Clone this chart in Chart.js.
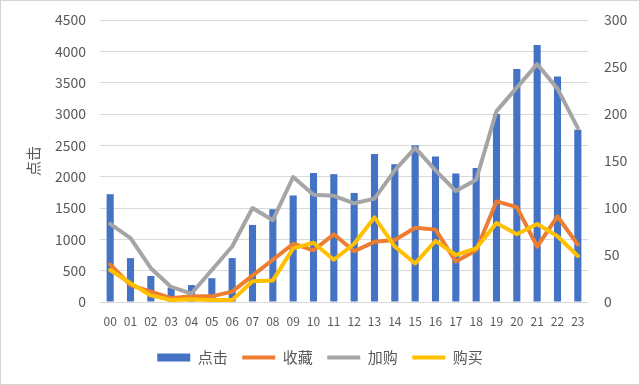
<!DOCTYPE html>
<html>
<head>
<meta charset="utf-8">
<script src="https://cdn.jsdelivr.net/npm/chart.js@4"></script>
<style>
  html, body { margin: 0; padding: 0; background: #fff; }
  #wrap { position: relative; width: 640px; height: 385px; box-sizing: border-box; border: 1px solid #d4d4d4; }
</style>
</head>
<body>
<div id="wrap"><canvas id="hourChart"></canvas></div>
<script>
const hours = ['00','01','02','03','04','05','06','07','08','09','10','11','12','13','14','15','16','17','18','19','20','21','22','23'];
const clicks = [1720, 700, 415, 230, 270, 380, 700, 1230, 1480, 1700, 2060, 2040, 1740, 2360, 2200, 2500, 2320, 2050, 2140, 3000, 3720, 4100, 3600, 2750];
const favorites = [40, 18, 11, 4, 6, 6, 11, 28, 45, 62, 55, 72, 54, 64, 66, 79, 77, 43, 55, 107, 101, 59, 91, 61];
const addCart = [83, 68, 36, 16, 9, 34, 59, 100, 87, 133, 114, 113, 105, 110, 140, 164, 140, 118, 130, 203, 228, 253, 227, 185];
const purchases = [34, 20, 7, 2, 3, 2, 2, 22, 23, 57, 63, 45, 62, 90, 59, 41, 65, 50, 57, 84, 72, 83, 70, 49];

const textColor = '#595959';
const gridColor = '#d9d9d9';
const fontFamily = '"Noto Sans CJK SC", "Noto Sans", sans-serif';

const lineSet = (label, data, color, order) => ({
    type: 'line',
    label,
    data,
    yAxisID: 'y1',
    borderColor: color,
    backgroundColor: color,
    borderWidth: 4,
    borderJoinStyle: 'round',
    borderCapStyle: 'round',
    pointRadius: 0,
    pointStyle: 'line',
    tension: 0,
    order
});

new Chart(document.getElementById('hourChart'), {
    type: 'bar',
    data: {
        labels: hours,
        datasets: [
            {
                label: '点击',
                data: clicks,
                yAxisID: 'y',
                backgroundColor: '#4472c4',
                barPercentage: 0.35,
                categoryPercentage: 1,
                pointStyle: 'rect',
                order: 4
            },
            lineSet('收藏', favorites, '#ed7d31', 3),
            lineSet('加购', addCart, '#a5a5a5', 2),
            lineSet('购买', purchases, '#ffc000', 1)
        ]
    },
    options: {
        responsive: true,
        maintainAspectRatio: false,
        animation: false,
        layout: {
            padding: { top: 19, left: 0, right: 0, bottom: 9 }
        },
        plugins: {
            legend: {
                position: 'bottom',
                labels: {
                    usePointStyle: true,
                    pointStyleWidth: 33,
                    boxHeight: 8,
                    padding: 14.5,
                    color: textColor,
                    font: { family: fontFamily, size: 15 },
                    sort: (a, b) => a.datasetIndex - b.datasetIndex
                }
            },
            tooltip: { enabled: false }
        },
        scales: {
            x: {
                grid: { display: false },
                border: { display: false },
                ticks: {
                    color: textColor,
                    font: { family: fontFamily, size: 12 },
                    maxRotation: 0,
                    autoSkip: false,
                    padding: 4
                },
                afterFit: (scale) => { scale.height = 33.5; }
            },
            y: {
                position: 'left',
                min: 0,
                max: 4500,
                ticks: {
                    stepSize: 500,
                    color: textColor,
                    font: { family: fontFamily, size: 14 },
                    padding: 0,
                    callback: (v) => String(v)
                },
                grid: { color: gridColor, lineWidth: 1, tickLength: 14, tickColor: 'transparent' },
                border: { display: false },
                title: {
                    display: true,
                    text: '点击',
                    color: textColor,
                    font: { family: fontFamily, size: 15 },
                    padding: { top: 23, bottom: 0 }
                },
                afterFit: (scale) => { scale.width = 99; }
            },
            y1: {
                position: 'right',
                min: 0,
                max: 300,
                ticks: {
                    stepSize: 50,
                    color: textColor,
                    font: { family: fontFamily, size: 14 },
                    padding: 0,
                    callback: (v) => String(v)
                },
                grid: { drawOnChartArea: false, tickLength: 16, tickColor: 'transparent' },
                border: { display: false },
                afterFit: (scale) => { scale.width = 51; }
            }
        }
    }
});
</script>
</body>
</html>
